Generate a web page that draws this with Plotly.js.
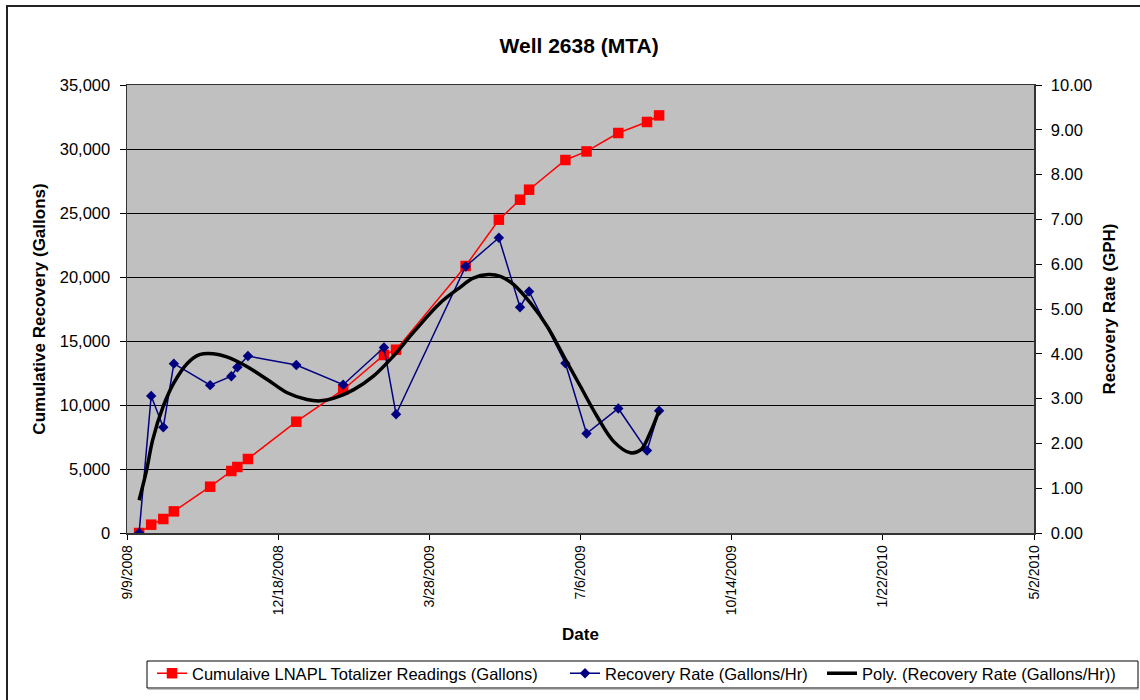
<!DOCTYPE html>
<html>
<head>
<meta charset="utf-8">
<script src="https://cdn.plot.ly/plotly-3.0.1.min.js"></script>
<style>
  html, body { margin: 0; padding: 0; background: #fff; overflow: hidden; }
  #wrap { position: relative; width: 1140px; height: 700px; }
  #chart { position: absolute; left: 0; top: 0; width: 1140px; height: 700px; }
  #frame { position: absolute; left: 6px; top: 5px; width: 1200px; height: 800px;
           border-left: 2px solid #222; border-top: 2px solid #222; pointer-events: none; }
</style>
</head>
<body>
<div id="wrap">
  <div id="chart"></div>
  <div id="frame"></div>
</div>
<script>
// ---- data ----
const dates = [
  '2008-09-17','2008-09-25','2008-10-03','2008-10-10','2008-11-03','2008-11-17','2008-11-21',
  '2008-11-28','2008-12-30','2009-01-30','2009-02-26','2009-03-06','2009-04-21','2009-05-13',
  '2009-05-27','2009-06-02','2009-06-26','2009-07-10','2009-07-31','2009-08-19','2009-08-27'
];
const cumulativeGallons = [
  0, 650, 1094, 1690, 3617, 4844, 5156,
  5781, 8695, 11195, 13906, 14320, 20860, 24477,
  26040, 26820, 29140, 29810, 31250, 32110, 32625
];
const recoveryRateGPH = [
  0.00, 3.06, 2.36, 3.78, 3.30, 3.50, 3.70,
  3.95, 3.75, 3.31, 4.14, 2.65, 5.95, 6.59,
  5.04, 5.39, 3.79, 2.22, 2.78, 1.84, 2.73
];
// polynomial trendline as drawn in the reference
const trendDates = [
  '2008-09-17','2008-09-22','2008-09-26','2008-10-03','2008-10-10','2008-10-19','2008-10-27',
  '2008-11-05','2008-11-14','2008-11-27','2008-12-11','2008-12-24','2009-01-06','2009-01-15',
  '2009-01-24','2009-02-06','2009-02-19','2009-03-04','2009-03-18','2009-04-04','2009-04-18',
  '2009-04-26','2009-05-06','2009-05-14','2009-05-23','2009-06-03','2009-06-14','2009-06-25',
  '2009-07-06','2009-07-17','2009-07-28','2009-08-08','2009-08-15','2009-08-21','2009-08-27'
];
const trendGPH = [
  0.73, 1.41, 2.08, 2.83, 3.35, 3.79, 3.98,
  4.00, 3.93, 3.72, 3.42, 3.13, 2.98, 2.95,
  3.01, 3.20, 3.50, 3.94, 4.50, 5.13, 5.50,
  5.69, 5.77, 5.73, 5.54, 5.13, 4.61, 3.94,
  3.27, 2.60, 2.04, 1.79, 1.86, 2.23, 2.73
];
const xTickVals = ['2008-09-09','2008-12-18','2009-03-28','2009-07-06','2009-10-14','2010-01-22','2010-05-02'];
const xTickText = ['9/9/2008','12/18/2008','3/28/2009','7/6/2009','10/14/2009','1/22/2010','5/2/2010'];
const seriesNames = [
  'Cumulaive LNAPL Totalizer Readings (Gallons)',
  'Recovery Rate (Gallons/Hr)',
  'Poly. (Recovery Rate (Gallons/Hr))'
];

const FONT = 'Liberation Sans, Arial, sans-serif';
const W = 1140, H = 700;
const M = {l: 127, r: 106, t: 85, b: 167};
const PW = W - M.l - M.r, PH = H - M.t - M.b;
// pixel helpers for layout placement (legend row / frame)
const px2paperX = p => (p - M.l) / PW;
const px2paperY = p => (H - M.b - p) / PH;

const traces = [
  {
    x: dates, y: cumulativeGallons, name: seriesNames[0], type: 'scatter', mode: 'lines+markers',
    yaxis: 'y', legend: 'legend', line: {color: '#FF0000', width: 1.5},
    marker: {symbol: 'square', size: 10.5, color: '#FF0000'}
  },
  {
    x: dates, y: recoveryRateGPH, name: seriesNames[1], type: 'scatter', mode: 'lines+markers',
    yaxis: 'y2', legend: 'legend2', line: {color: '#000080', width: 1.5},
    marker: {symbol: 'diamond', size: 8, color: '#000080'}
  },
  {
    x: trendDates, y: trendGPH, name: seriesNames[2], type: 'scatter', mode: 'lines',
    yaxis: 'y2', legend: 'legend3', line: {color: '#000000', width: 3.5, shape: 'spline', smoothing: 1}
  }
];

function legendAt(leftPx) {
  return {
    orientation: 'h',
    xref: 'container', yref: 'container',
    x: leftPx / W, xanchor: 'left',
    y: 1 - 656 / H, yanchor: 'top',
    bgcolor: 'rgba(0,0,0,0)', borderwidth: 0,
    font: {family: FONT, size: 16.5, color: '#000'},
    itemwidth: 30
  };
}

const layout = {
  width: W, height: H,
  margin: {l: M.l, r: M.r, t: M.t, b: M.b, pad: 0, autoexpand: false},
  paper_bgcolor: '#FFFFFF',
  plot_bgcolor: '#C0C0C0',
  font: {family: FONT, color: '#000', size: 16},
  showlegend: true,
  title: {
    text: 'Well 2638 (MTA)',
    font: {family: FONT, size: 21, weight: 'bold', color: '#000'},
    x: 0.508, xanchor: 'center', y: 1 - 46/700, yanchor: 'middle'
  },
  xaxis: {
    type: 'date',
    range: ['2008-09-09', '2010-05-02'],
    tickmode: 'array', tickvals: xTickVals, ticktext: xTickText,
    tickangle: -90,
    tickfont: {family: FONT, size: 14},
    ticks: 'outside', ticklen: 5, tickcolor: '#000',
    showgrid: false, zeroline: false, automargin: false,
    showline: true, linecolor: '#333', linewidth: 1.5, mirror: true,
    title: {text: 'Date', font: {family: FONT, size: 17, weight: 'bold'}, standoff: 14}
  },
  yaxis: {
    range: [0, 35000], dtick: 5000, tick0: 0,
    tickformat: ',d',
    tickfont: {family: FONT, size: 16.5},
    ticks: 'outside', ticklen: 6, tickcolor: '#000',
    ticklabelstandoff: 6,
    showgrid: true, gridcolor: '#000', gridwidth: 1,
    zeroline: false, automargin: false,
    showline: true, linecolor: '#333', linewidth: 1.5,
    title: {text: 'Cumulative Recovery (Gallons)', font: {family: FONT, size: 17, weight: 'bold'}, standoff: 10}
  },
  yaxis2: {
    overlaying: 'y', side: 'right',
    range: [0, 10], dtick: 1, tick0: 0,
    tickformat: '.2f',
    tickfont: {family: FONT, size: 16.5},
    ticks: 'outside', ticklen: 6, tickcolor: '#000',
    ticklabelstandoff: 6,
    showgrid: false, zeroline: false, automargin: false,
    showline: true, linecolor: '#333', linewidth: 1.5,
    title: {text: 'Recovery Rate (GPH)', font: {family: FONT, size: 17, weight: 'bold'}, standoff: 12}
  },
  legend: legendAt(152),
  legend2: legendAt(565),
  legend3: legendAt(822),
  shapes: [
    {
      type: 'rect', xref: 'paper', yref: 'paper', layer: 'above',
      x0: px2paperX(147), x1: px2paperX(1138),
      y0: px2paperY(688), y1: px2paperY(661),
      line: {color: '#000', width: 1}, fillcolor: 'rgba(255,255,255,0)'
    },
    {
      type: 'line', xref: 'paper', yref: 'paper', layer: 'above',
      x0: px2paperX(148), x1: px2paperX(1139),
      y0: px2paperY(689), y1: px2paperY(689),
      line: {color: '#888', width: 1}
    }
  ]
};

Plotly.newPlot('chart', traces, layout, {staticPlot: true, displayModeBar: false});
</script>
</body>
</html>
